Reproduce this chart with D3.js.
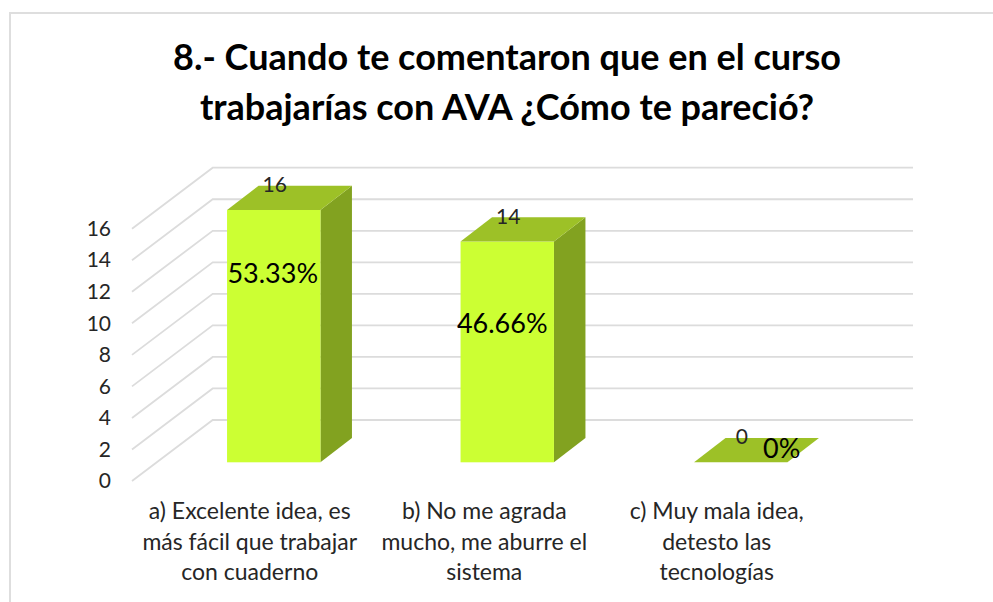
<!DOCTYPE html>
<html><head><meta charset="utf-8">
<script src="https://cdn.jsdelivr.net/npm/d3@7"></script>
<style>html,body{margin:0;padding:0;background:#fff}svg{display:block}text{font-family:Lato,"Open Sans",sans-serif}</style>
</head><body><svg id="c" width="993" height="602"></svg>
<script>
const titleLines=["8.- Cuando te comentaron que en el curso","trabajarías con AVA ¿Cómo te pareció?"];
const categories=["a","b","c"];
const categoryLabels=[["a) Excelente idea, es","más fácil que trabajar","con cuaderno"],["b) No me agrada","mucho, me aburre el","sistema"],["c) Muy mala idea,","detesto las","tecnologías"]];
const values=[16,14,0];
const percentLabels=["53.33%","46.66%","0%"];
const yTicks=[0,2,4,6,8,10,12,14,16];

const W={frontL:132,backL:212.7,right:913,floorDX:80.7,floorDY:-61,barDX:31.5,barDY:-24.3};
const pctPos=[{dx:-1,dy:73},{dx:-5,dy:91},{dx:41,dy:-4}];
const labelShift=[-24,-23,-24];
const svg=d3.select("#c");
svg.append("path").attr("d","M10,602V13H993").attr("fill","none").attr("stroke","#dedede").attr("stroke-width",2);

svg.append("g").selectAll("text").data(titleLines).join("text")
 .attr("x",507).attr("y",(d,i)=>70+i*50).attr("text-anchor","middle")
 .attr("font-size",36).attr("font-weight",700).attr("fill","#000").text(d=>d);

const yFront=d3.scaleLinear().domain([0,16]).range([481,228.7]);
const yBar=d3.scaleLinear().domain([0,16]).range([462.3,210]);
const x=d3.scaleBand().domain(categories).range([157,857.5]).paddingInner(0.6).paddingOuter(0.3);

const grid=svg.append("g").attr("fill","none").attr("stroke","#dcdcdc").attr("stroke-width",1.8);
grid.selectAll("path").data(yTicks).join("path")
 .attr("d",t=>{const y=yFront(t);return `M${W.frontL},${y}L${W.backL},${y+W.floorDY}H${W.right}`;});

const axis=d3.axisLeft(yFront).tickValues(yTicks).tickSize(0).tickPadding(0);
const ag=svg.append("g").attr("transform","translate(111,0)").call(axis);
ag.select(".domain").remove();
ag.selectAll("text").attr("font-size",21).attr("fill","#262626").style("font-family","Lato,sans-serif");

const bars=svg.append("g").selectAll("g").data(values).join("g");
const xL=(d,i)=>x(categories[i]), xR=(d,i)=>x(categories[i])+x.bandwidth();
const dx=W.barDX,dy=W.barDY;
bars.append("path").attr("fill","#82a220")
 .attr("d",(d,i)=>{const r=xR(d,i),t=yBar(d),b=yBar(0);return `M${r},${t}L${r+dx},${t+dy}V${b+dy}L${r},${b}Z`;});
bars.append("rect").attr("fill","#ccff33")
 .attr("x",xL).attr("width",x.bandwidth()).attr("y",d=>yBar(d)).attr("height",d=>yBar(0)-yBar(d));
bars.append("path").attr("fill","#9dc127")
 .attr("d",(d,i)=>{const l=xL(d,i),r=xR(d,i),t=yBar(d);return `M${l},${t}L${l+dx},${t+dy}H${r+dx}L${r},${t}Z`;});
bars.append("text").attr("x",(d,i)=>xL(d,i)+x.bandwidth()/2+1).attr("y",d=>yBar(d)-18)
 .attr("text-anchor","middle").attr("font-size",21).attr("fill","#262626").text(d=>d);
bars.append("text").attr("x",(d,i)=>xL(d,i)+x.bandwidth()/2+pctPos[i].dx).attr("y",(d,i)=>yBar(d)+pctPos[i].dy)
 .attr("text-anchor","middle").attr("font-size",27).attr("fill","#000").text((d,i)=>percentLabels[i]);

svg.append("g").selectAll("g").data(categoryLabels).join("g")
 .each(function(lines,i){
  d3.select(this).selectAll("text").data(lines).join("text")
   .attr("x",x(categories[i])+x.bandwidth()/2+labelShift[i]).attr("y",(d,j)=>519+j*30.5)
   .attr("text-anchor","middle").attr("font-size",23).attr("fill","#262626").text(d=>d);
 });
</script></body></html>
